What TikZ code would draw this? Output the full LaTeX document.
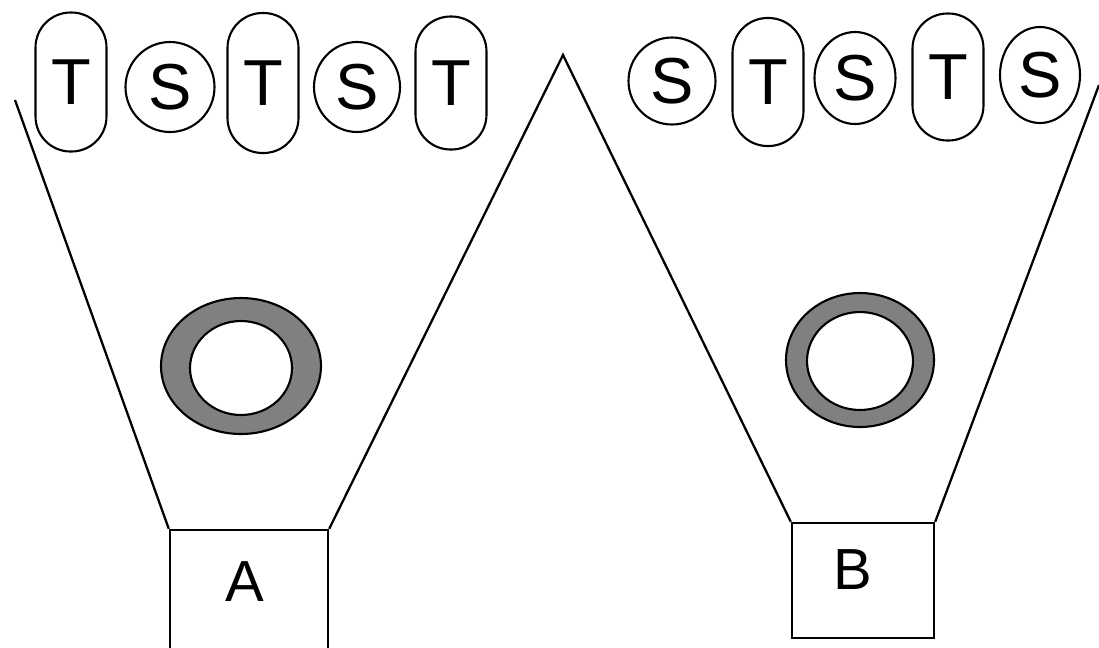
\documentclass[tikz,border=0pt]{standalone}
\usepackage{fontspec}
\setmainfont{Liberation Sans}
\usetikzlibrary{shapes.geometric}

\begin{document}
\begin{tikzpicture}[x=0.02cm, y=-0.02cm,
  tok/.style={draw, line width=1.2pt, inner sep=0pt, font=\fontsize{37}{40}\selectfont},
  tpill/.style={tok, rounded corners=0.7cm, minimum width=1.42cm},
  scirc/.style={tok, ellipse},
  tray/.style={draw, line width=1.4pt, inner sep=0pt},
  ring/.style={fill=gray, draw=black, line width=1.2pt, even odd rule}]
\clip (0,0) rectangle (1099,647);

\foreach \n/\x/\y/\h in {t1/71/82/139, t2/263/83/140, t3/451/83/133, t4/768/82/128, t5/948/77/127}
  \node[tpill, minimum height=\h*0.02cm] (\n) at (\x,\y) {\raisebox{-4pt}{T}};
\foreach \n/\x/\y/\w/\h in {s1/170/87/89/90, s2/357/87/86/90, s3/672/81/87/87, s4/855/78/81/92, s5/1040/75/80/96}
  \node[scirc, minimum width=\w*0.02cm, minimum height=\h*0.02cm] (\n) at (\x,\y) {S};

\filldraw[ring] (241,366) ellipse [x radius=1.6cm, y radius=1.36cm]
                (241,368) ellipse [x radius=1.02cm, y radius=0.94cm];
\filldraw[ring] (860,360) ellipse [x radius=1.48cm, y radius=1.34cm]
                (860,361) ellipse [x radius=1.06cm, y radius=0.98cm];

\node[tray, minimum width=3.16cm, minimum height=3.4cm] (boxA) at (249,615) {};
\node[tray, minimum width=2.84cm, minimum height=2.3cm] (boxB) at (863,580.5) {};
\node[font=\fontsize{33}{35}\selectfont] (labA) at (245,582) {A};
\node[font=\fontsize{33}{35}\selectfont] (labB) at (853,570) {B};

\coordinate (topL) at (15,100);
\coordinate (peak) at (563,55);
\coordinate (topR) at (1099,85);
\draw[line width=1.3pt] (topL) -- (boxA.north west);
\draw[line width=1.3pt] (boxA.north east) -- (peak) -- (boxB.north west);
\draw[line width=1.3pt] (boxB.north east) -- (topR);
\end{tikzpicture}
\end{document}
